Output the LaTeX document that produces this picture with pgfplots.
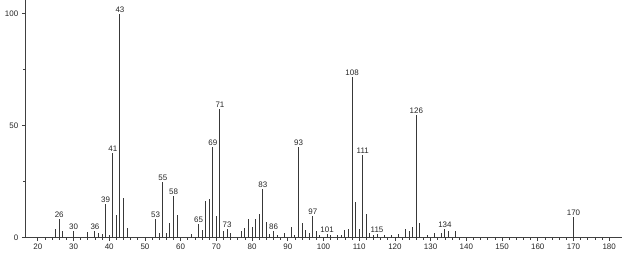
\documentclass[border=0pt]{standalone}
\usepackage{pgfplots}
\pgfplotsset{compat=1.18}
\usepackage{pgfplotstable}
\usepackage{fontspec}
\setmainfont{Liberation Sans}
\pgfplotstableread{
mz int
25 3.6
26 8.3
27 3.0
30 3.0
34 2.5
36 2.8
37 1.9
38 1.4
39 14.8
40 1.1
41 37.9
42 10.2
43 100
44 17.8
45 4.2
53 8.3
54 2.0
55 24.8
56 2.0
57 6.6
58 18.7
59 10.2
63 1.4
65 5.9
66 3.3
67 16.3
68 17.0
69 40.5
70 9.6
71 57.4
72 2.9
73 3.8
74 1.9
77 2.9
78 4.2
79 8.3
80 4.8
81 8.3
82 10.3
83 21.6
84 6.8
85 1.7
86 2.9
87 1.0
89 1.9
91 4.8
92 1.0
93 40.3
94 6.5
95 3.5
96 2.0
97 9.7
98 3.0
99 1.1
101 1.4
102 1.1
104 1.0
105 1.0
106 3.5
107 3.8
108 71.5
109 15.8
110 3.8
111 36.8
112 10.3
113 1.9
114 1.0
115 1.6
117 1.0
119 1.0
121 1.4
123 3.6
124 3.0
125 4.7
126 54.9
127 6.3
129 1.0
131 2.0
133 2.0
134 3.6
135 2.9
137 2.9
170 9.3
}\spectrum
\pgfplotstableread{
mz int
26 8.3
30 3.0
36 2.8
39 14.8
41 37.9
43 100
53 8.3
55 24.8
58 18.7
65 5.9
69 40.5
71 57.4
73 3.8
83 21.6
86 2.9
93 40.3
97 9.7
101 1.4
108 71.5
111 36.8
115 1.6
126 54.9
134 3.6
170 9.3
}\labeled
\begin{document}
\begin{tikzpicture}
\begin{axis}[
  scale only axis,
  width=596.4bp, height=237.5bp,
  xmin=16.5, xmax=183.5,
  ymin=0, ymax=106.1,
  axis x line=bottom, axis y line=left,
  axis line style={-, black!75, line width=0.8bp},
  /pgf/number format/assume math mode=true,
  xtick={20,30,...,180},
  minor x tick num=4,
  ytick={0,50,100},
  minor y tick num=1,
  tick align=outside,
  major tick length=3.5bp,
  minor tick length=2bp,
  tick style={black!75, line width=0.7bp},
  tick label style={font=\fontsize{8}{9}\selectfont, text=black!85},
  xticklabel style={yshift=0.5bp},
  clip=false,
]
\addplot[ycomb, black!78, line width=1bp, mark=none] table[x=mz, y=int] {\spectrum};
\addplot[draw=none, mark=none, forget plot,
  point meta=x,
  nodes near coords={\pgfmathprintnumber[fixed,precision=0,assume math mode=true]{\pgfplotspointmeta}},
  every node near coord/.style={font=\fontsize{8}{9}\selectfont, text=black!85, anchor=south, inner sep=1.2bp}
] table[x=mz, y=int] {\labeled};
\end{axis}
\pgfresetboundingbox
\useasboundingbox (-25.3bp,-16.5bp) rectangle (597.7bp,237.5bp);
\end{tikzpicture}
\end{document}
